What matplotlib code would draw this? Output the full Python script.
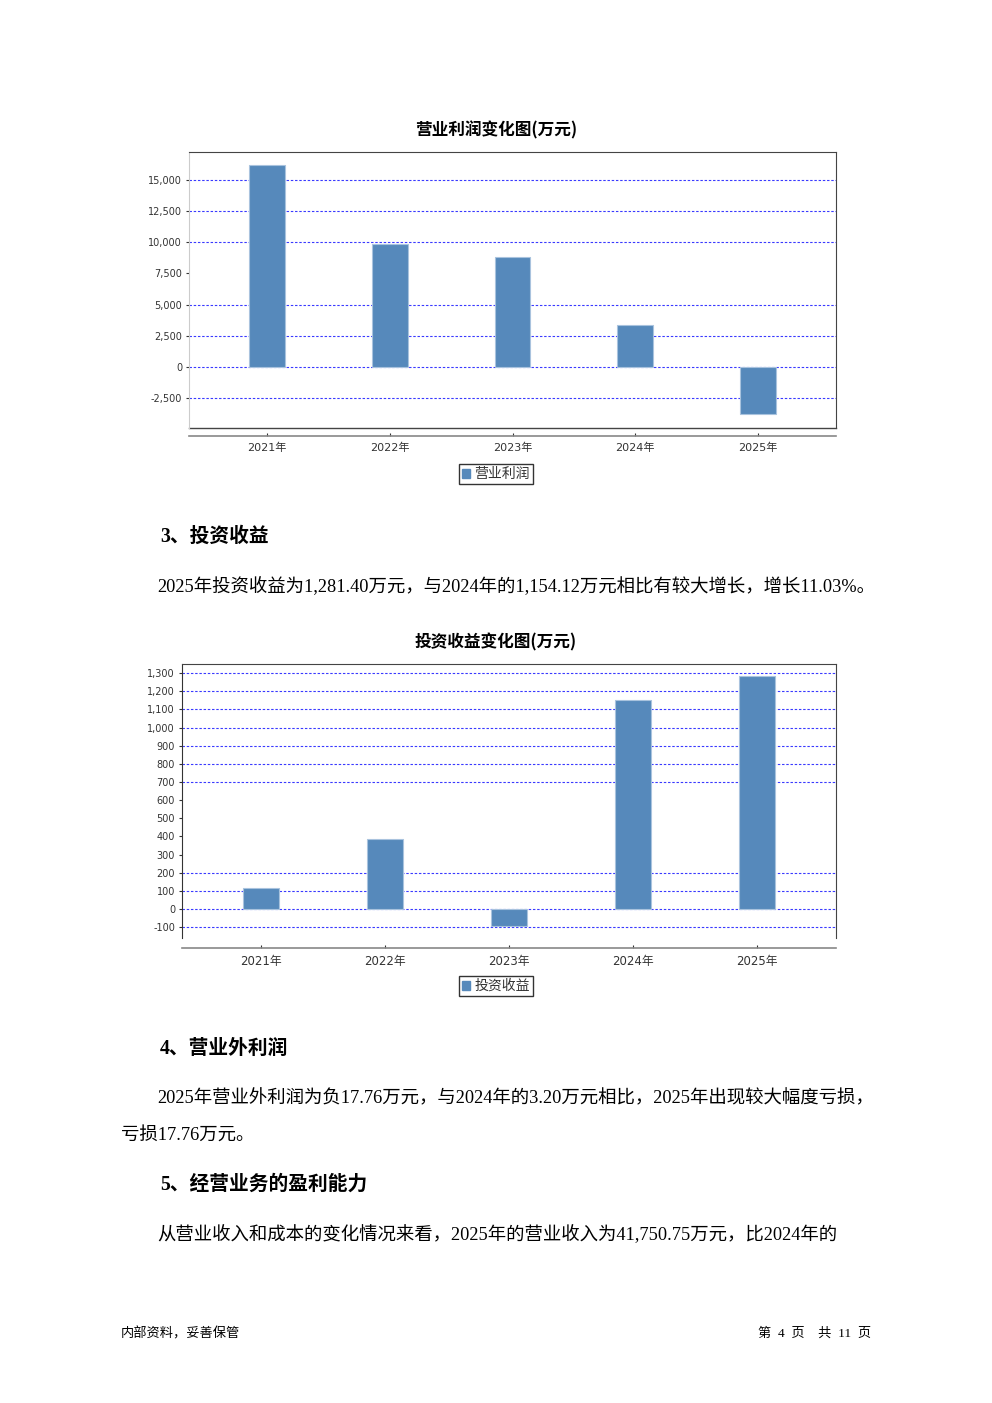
import matplotlib
matplotlib.use("Agg")
import matplotlib.pyplot as plt
from matplotlib.patches import Patch
from matplotlib.ticker import FuncFormatter

plt.rcParams['font.family'] = ['DejaVu Sans', 'Noto Sans CJK SC']

# ---------------- data ----------------
years = ["2021年", "2022年", "2023年", "2024年", "2025年"]

op_profit = [16200, 9860, 8820, 3370, -3770]          # 营业利润 (万元)
op_ticks = [-2500, 0, 2500, 5000, 7500, 10000, 12500, 15000]
op_grid = [-2500, 0, 2500, 5000, 10000, 12500, 15000]

inv_income = [118, 386, -94, 1154.12, 1281.40]        # 投资收益 (万元)
inv_ticks = [-100, 0, 100, 200, 300, 400, 500, 600, 700, 800, 900, 1000, 1100, 1200, 1300]
inv_grid = [-100, 0, 100, 200, 700, 800, 900, 1000, 1100, 1200, 1300]

title1 = "营业利润变化图(万元)"
title2 = "投资收益变化图(万元)"
legend1 = "营业利润"
legend2 = "投资收益"

W, H = 992, 1403
fig = plt.figure(figsize=(W / 100, H / 100), dpi=100)
fig.patch.set_facecolor("white")

BAR = "#5689bb"
BAR_EDGE = "#a9c3de"
GRID = "#3a3aff"

CJK = ['Noto Sans CJK SC']
BODY = ['Liberation Serif', 'Noto Sans CJK SC']
SANS = ['DejaVu Sans', 'Noto Sans CJK SC']


def fx(px):
    return px / W


def fy(py):
    return 1 - py / H


def make_chart(box, values, yticks, grid, ylim, xlim, title, title_y, legend_label,
               legend_y, offset_pt, left_col, bottom_border, xtick_family, xsize):
    l, t, r, b = box
    ax = fig.add_axes([fx(l), fy(b), fx(r - l), (b - t) / H])
    x = list(range(len(values)))
    for g in grid:
        ax.axhline(g, color=GRID, lw=0.8, ls=(0, (2.2, 1.6)), zorder=1)
    ax.bar(x, values, width=0.29, color=BAR, edgecolor=BAR_EDGE, linewidth=0.8, zorder=2)
    ax.set_xlim(*xlim)
    ax.set_ylim(*ylim)
    ax.set_yticks(yticks)
    ax.yaxis.set_major_formatter(FuncFormatter(lambda v, p: f"{int(v):,}"))
    ax.set_xticks(x)
    ax.set_xticklabels(years)
    ax.tick_params(axis='y', labelsize=7, colors='#333333', length=2, pad=3)
    ax.tick_params(axis='x', labelsize=xsize, colors='#333333', length=2, direction='in', pad=5)
    for lab in ax.get_xticklabels():
        lab.set_family(xtick_family)
    for lab in ax.get_yticklabels():
        lab.set_family(SANS)
    ax.spines['top'].set_color('#444444')
    ax.spines['right'].set_color('#444444')
    ax.spines['left'].set_color(left_col)
    ax.spines['bottom'].set_position(('outward', offset_pt))
    ax.spines['bottom'].set_color('#888888')
    ax.spines['bottom'].set_linewidth(1.2)
    if bottom_border:
        ax.plot([0, 1], [0, 0], transform=ax.transAxes, color='#444444', lw=1.0, clip_on=False)
    fig.text(0.5, fy(title_y), title, ha='center', va='center', fontsize=12,
             fontweight='bold', family=CJK)
    leg = fig.legend(handles=[Patch(facecolor=BAR, edgecolor=BAR)], labels=[legend_label],
                     loc='center', bbox_to_anchor=(0.5, fy(legend_y)),
                     prop={'family': CJK, 'size': 10},
                     fancybox=False, handlelength=0.6, handleheight=0.6,
                     handletextpad=0.3, borderpad=0.25, borderaxespad=0)
    leg.get_frame().set_edgecolor('black')
    leg.get_frame().set_linewidth(1.0)
    for txt in leg.get_texts():
        txt.set_color('#333333')
    return ax


make_chart((189, 152, 836, 428), op_profit, op_ticks, op_grid, (-4890, 17240),
           (-0.635, 4.635), title1, 130, legend1, 474, 5.8, '#cccccc', True,
           SANS, 8)
make_chart((182, 664, 836, 938), inv_income, inv_ticks, inv_grid, (-160, 1350),
           (-0.637, 4.637), title2, 642, legend2, 986, 7.2, '#333333', False,
           BODY, 8.5)

# ---------------- body text ----------------
def txt(x, y, s, size=13.25, bold=False, family=BODY, ha='left'):
    fig.text(fx(x), fy(y), s, ha=ha, va='center', fontsize=size,
             fontweight='bold' if bold else 'normal', family=family, color='black')

txt(160, 537, "3、投资收益", size=14.2, bold=True)
txt(157, 586.5, "2025年投资收益为1,281.40万元，与2024年的1,154.12万元相比有较大增长，增长11.03%。")
txt(160, 1049, "4、营业外利润", size=14.2, bold=True)
txt(157, 1098.5, "2025年营业外利润为负17.76万元，与2024年的3.20万元相比，2025年出现较大幅度亏损，")
txt(121, 1135.5, "亏损17.76万元。")
txt(160, 1185, "5、经营业务的盈利能力", size=14.2, bold=True)
txt(157, 1234.5, "从营业收入和成本的变化情况来看，2025年的营业收入为41,750.75万元，比2024年的")

txt(121, 1334, "内部资料，妥善保管", size=9.5)
txt(871, 1334, "第  4  页    共  11  页", size=9.5, ha='right')

fig.savefig("out.png", dpi=100, facecolor="white")
